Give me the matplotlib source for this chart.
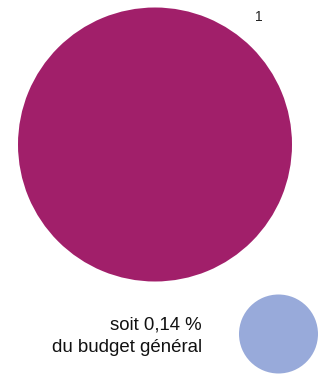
import matplotlib.pyplot as plt

plt.rcParams['font.family'] = ['Liberation Sans', 'DejaVu Sans']

# data
main_values = [1]
main_labels = ['1']
share_values = [1]
share_text = ['soit 0,14 %', 'du budget général']

fig = plt.figure(figsize=(3.2, 3.74), dpi=100)
fig.set_facecolor('white')

# big circle
ax1 = fig.add_axes([18/320, 92/374, 274/320, 275/374])
ax1.pie(main_values, labels=main_labels, colors=['#A11F6A'], startangle=232,
        labeldistance=1.18, radius=1, textprops={'fontsize': 10, 'color': '#222222'})
ax1.set_xlim(-1, 1)
ax1.set_ylim(-1, 1)
ax1.axis('off')

# small circle
ax2 = fig.add_axes([239/320, 0.5/374, 79/320, 79/374])
ax2.pie(share_values, colors=['#98AADA'], radius=1)
ax2.set_xlim(-1, 1)
ax2.set_ylim(-1, 1)
ax2.axis('off')

fig.text(202/320, 1 - 325/374, share_text[0], ha='right', va='center', fontsize=13.4, color='#111111')
fig.text(202/320, 1 - 348/374, share_text[1], ha='right', va='center', fontsize=13.4, color='#111111')

fig.savefig('out.png', dpi=100, facecolor='white')
